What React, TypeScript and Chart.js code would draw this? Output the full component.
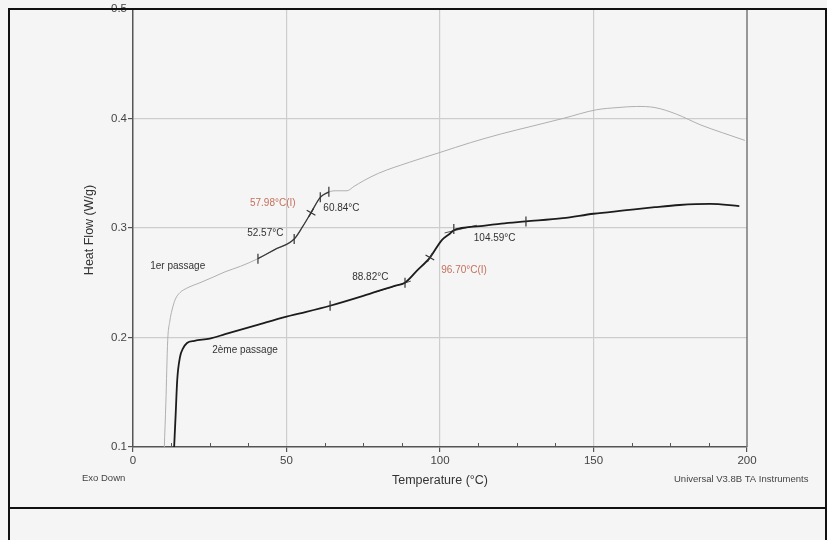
import React, { useEffect, useRef } from "react";
import { Chart, registerables } from "chart.js";

Chart.register(...registerables);

// ---- Data ----
const pass1Temp = [10.2, 10.7, 11.3, 12.0, 12.7, 13.8, 15.3, 17.5, 21.8, 26, 30, 35, 40.7, 46, 52.5, 55.2, 58.0, 61.0, 63.8, 66.5, 69.7, 72, 75, 80, 90, 100, 110, 120, 130, 140, 151, 158, 164, 170, 177, 185, 192, 199.3];
const pass1Flow = [0.100, 0.140, 0.197, 0.215, 0.225, 0.235, 0.241, 0.245, 0.250, 0.255, 0.260, 0.265, 0.272, 0.280, 0.290, 0.301, 0.314, 0.328, 0.333, 0.334, 0.334, 0.338, 0.343, 0.350, 0.360, 0.369, 0.378, 0.386, 0.393, 0.400, 0.408, 0.410, 0.411, 0.410, 0.404, 0.394, 0.387, 0.380];

const pass2Temp = [13.4, 13.9, 14.4, 15.3, 16.3, 17.6, 20, 25, 30, 40, 50, 54.4, 64.2, 75, 85, 88.6, 92.5, 96.7, 100.6, 103.3, 104.5, 107, 110, 114, 120, 128, 140, 150, 160, 170, 178, 188, 197.5];
const pass2Flow = [0.100, 0.130, 0.161, 0.182, 0.190, 0.195, 0.197, 0.199, 0.203, 0.211, 0.219, 0.222, 0.229, 0.238, 0.247, 0.250, 0.261, 0.273, 0.289, 0.295, 0.298, 0.300, 0.301, 0.302, 0.304, 0.306, 0.309, 0.313, 0.316, 0.319, 0.321, 0.322, 0.320];

const pass1MarkTemp = [40.7, 52.5, 61.0, 63.8];
const pass1MarkFlow = [0.272, 0.290, 0.328, 0.333];
const pass1CrossTemp = [58.0];
const pass1CrossFlow = [0.314];

const pass2MarkTemp = [64.2, 88.6, 104.5, 128.0];
const pass2MarkFlow = [0.229, 0.250, 0.299, 0.306];
const pass2CrossTemp = [96.7];
const pass2CrossFlow = [0.273];

// tangent construction lines
const tangentATemp = [79, 90.5];
const tangentAFlow = [0.2415, 0.2515];
const tangentBTemp = [101.5, 112];
const tangentBFlow = [0.2955, 0.3025];

const xTickLabels = [0, 50, 100, 150, 200];
const xMinorStep = 12.5;
const yTickLabels = [0.1, 0.2, 0.3, 0.4, 0.5];

const annotationTexts = ["57.98°C(I)", "60.84°C", "52.57°C", "1er passage", "88.82°C", "96.70°C(I)", "104.59°C", "2ème passage"];
const annotationTemp = [38.1, 62.0, 37.2, 5.6, 71.4, 100.4, 111.0, 25.8];
const annotationFlow = [0.323, 0.318, 0.295, 0.265, 0.255, 0.261, 0.291, 0.188];
const annotationRed = [true, false, false, false, false, true, false, false];

const FONT = '"Liberation Sans", Arial, Helvetica, sans-serif';

const zip = (xs: number[], ys: number[]) => xs.map((x, i) => ({ x, y: ys[i] }));

export default function App() {
  const ref = useRef<HTMLCanvasElement | null>(null);

  useEffect(() => {
    const canvas = ref.current;
    if (!canvas) return;

    const pass1Dark = pass1Temp
      .map((x, i) => ({ x, y: pass1Flow[i] }))
      .filter((p) => p.x >= pass1MarkTemp[0] && p.x <= pass1MarkTemp[pass1MarkTemp.length - 1]);

    const decor = {
      id: "decor",
      beforeDraw(chart: any) {
        const c = chart.ctx;
        c.save();
        c.fillStyle = "#f5f5f5";
        c.fillRect(0, 0, chart.width, chart.height);
        c.restore();
      },
      afterDraw(chart: any) {
        const c = chart.ctx;
        const area = chart.chartArea;
        const xs = chart.scales.x;
        const ys = chart.scales.y;
        c.save();
        // right frame
        c.strokeStyle = "#777";
        c.lineWidth = 1.5;
        c.beginPath();
        c.moveTo(area.right, area.top);
        c.lineTo(area.right, area.bottom);
        c.stroke();
        // minor ticks (inside)
        c.strokeStyle = "#555";
        c.lineWidth = 1;
        for (let v = xMinorStep; v < 200; v += xMinorStep) {
          if (v % 50 === 0) continue;
          const px = Math.round(xs.getPixelForValue(v)) + 0.5;
          c.beginPath();
          c.moveTo(px, area.bottom);
          c.lineTo(px, area.bottom - 4);
          c.stroke();
        }
        // annotations
        c.font = `10px ${FONT}`;
        c.textBaseline = "middle";
        c.textAlign = "left";
        annotationTexts.forEach((t, i) => {
          c.fillStyle = annotationRed[i] ? "#c4705c" : "#333";
          c.fillText(t, xs.getPixelForValue(annotationTemp[i]), ys.getPixelForValue(annotationFlow[i]));
        });
        // outside texts
        c.fillStyle = "#444";
        c.font = `9.5px ${FONT}`;
        c.fillText("Exo Down", 82, 478);
        c.fillText("Universal V3.8B TA Instruments", 674, 479);
        c.fillStyle = "#333";
        c.font = `12.5px ${FONT}`;
        c.textAlign = "center";
        c.fillText("Temperature (°C)", (area.left + area.right) / 2, 481);
        c.save();
        c.translate(90, (area.top + area.bottom) / 2 + 2);
        c.rotate(-Math.PI / 2);
        c.fillText("Heat Flow (W/g)", 0, 0);
        c.restore();
        // outer boxes
        c.strokeStyle = "#111";
        c.lineWidth = 2;
        c.strokeRect(9, 9, 817, 499);
        c.strokeRect(9, 508, 817, 60);
        c.restore();
      },
    };

    const chart = new Chart(canvas, {
      type: "scatter",
      data: {
        datasets: [
          {
            label: "1er passage",
            data: zip(pass1Temp, pass1Flow),
            showLine: true,
            borderColor: "#b0b0b0",
            borderWidth: 1,
            pointRadius: 0,
            cubicInterpolationMode: "monotone",
            order: 5,
          },
          {
            label: "1er analyse",
            data: pass1Dark,
            showLine: true,
            borderColor: "#3a3a3a",
            borderWidth: 1.3,
            pointRadius: 0,
            cubicInterpolationMode: "monotone",
            order: 2,
          },
          {
            label: "2ème passage",
            data: zip(pass2Temp, pass2Flow),
            showLine: true,
            borderColor: "#1c1c1c",
            borderWidth: 1.8,
            pointRadius: 0,
            cubicInterpolationMode: "monotone",
            order: 3,
          },
          {
            label: "tangent A",
            data: zip(tangentATemp, tangentAFlow),
            showLine: true,
            borderColor: "#555",
            borderWidth: 1,
            pointRadius: 0,
            order: 4,
          },
          {
            label: "tangent B",
            data: zip(tangentBTemp, tangentBFlow),
            showLine: true,
            borderColor: "#555",
            borderWidth: 1,
            pointRadius: 0,
            order: 4,
          },
          {
            label: "marks",
            data: [...zip(pass1MarkTemp, pass1MarkFlow), ...zip(pass2MarkTemp, pass2MarkFlow)],
            showLine: false,
            pointStyle: "line",
            rotation: 90,
            pointRadius: 5,
            borderColor: "#333",
            borderWidth: 1.2,
            order: 0,
          },
          {
            label: "inflection",
            data: [...zip(pass1CrossTemp, pass1CrossFlow), ...zip(pass2CrossTemp, pass2CrossFlow)],
            showLine: false,
            pointStyle: "cross",
            rotation: 30,
            pointRadius: 5,
            borderColor: "#333",
            borderWidth: 1.2,
            order: 0,
          },
        ],
      },
      options: {
        responsive: false,
        animation: false,
        events: [],
        layout: { padding: { left: 0, top: 9, right: 80, bottom: 0 } },
        plugins: { legend: { display: false }, tooltip: { enabled: false } },
        scales: {
          x: {
            type: "linear",
            min: xTickLabels[0],
            max: xTickLabels[xTickLabels.length - 1],
            afterFit: (s: any) => {
              s.height = 93;
            },
            border: { display: true, color: "#555", width: 1.5 },
            grid: {
              color: (ctx: any) => {
                const v = ctx.tick ? ctx.tick.value : 0;
                return v % 50 === 0 && v > 0 && v < 200 ? "#cdcdcd" : "rgba(0,0,0,0)";
              },
              tickColor: (ctx: any) => {
                const v = ctx.tick ? ctx.tick.value : 0;
                return v % 50 === 0 ? "#555" : "rgba(0,0,0,0)";
              },
              tickLength: 5,
              lineWidth: 1.2,
            },
            ticks: {
              stepSize: xMinorStep,
              autoSkip: false,
              maxRotation: 0,
              padding: 2,
              color: "#444",
              font: { family: FONT, size: 11.5 },
              callback: (v: any) => (xTickLabels.includes(Number(v)) ? String(v) : ""),
            },
          },
          y: {
            type: "linear",
            min: yTickLabels[0],
            max: yTickLabels[yTickLabels.length - 1],
            afterFit: (s: any) => {
              s.width = 133;
            },
            border: { display: true, color: "#555", width: 1.5 },
            grid: {
              color: (ctx: any) => {
                const v = ctx.tick ? ctx.tick.value : 0;
                return v > 0.15 && v < 0.45 ? "#cdcdcd" : "rgba(0,0,0,0)";
              },
              tickColor: "#555",
              tickLength: 5,
              lineWidth: 1.2,
            },
            ticks: {
              stepSize: 0.1,
              padding: 1,
              color: "#444",
              font: { family: FONT, size: 11.5 },
              callback: (v: any) => Number(v).toFixed(1),
            },
          },
        },
      },
      plugins: [decor],
    } as any);

    return () => chart.destroy();
  }, []);

  return (
    <div style={{ position: "absolute", left: 0, top: 0, width: 827, height: 540, overflow: "hidden" }}>
      <canvas ref={ref} width={827} height={540} style={{ display: "block", width: 827, height: 540 }} />
    </div>
  );
}
